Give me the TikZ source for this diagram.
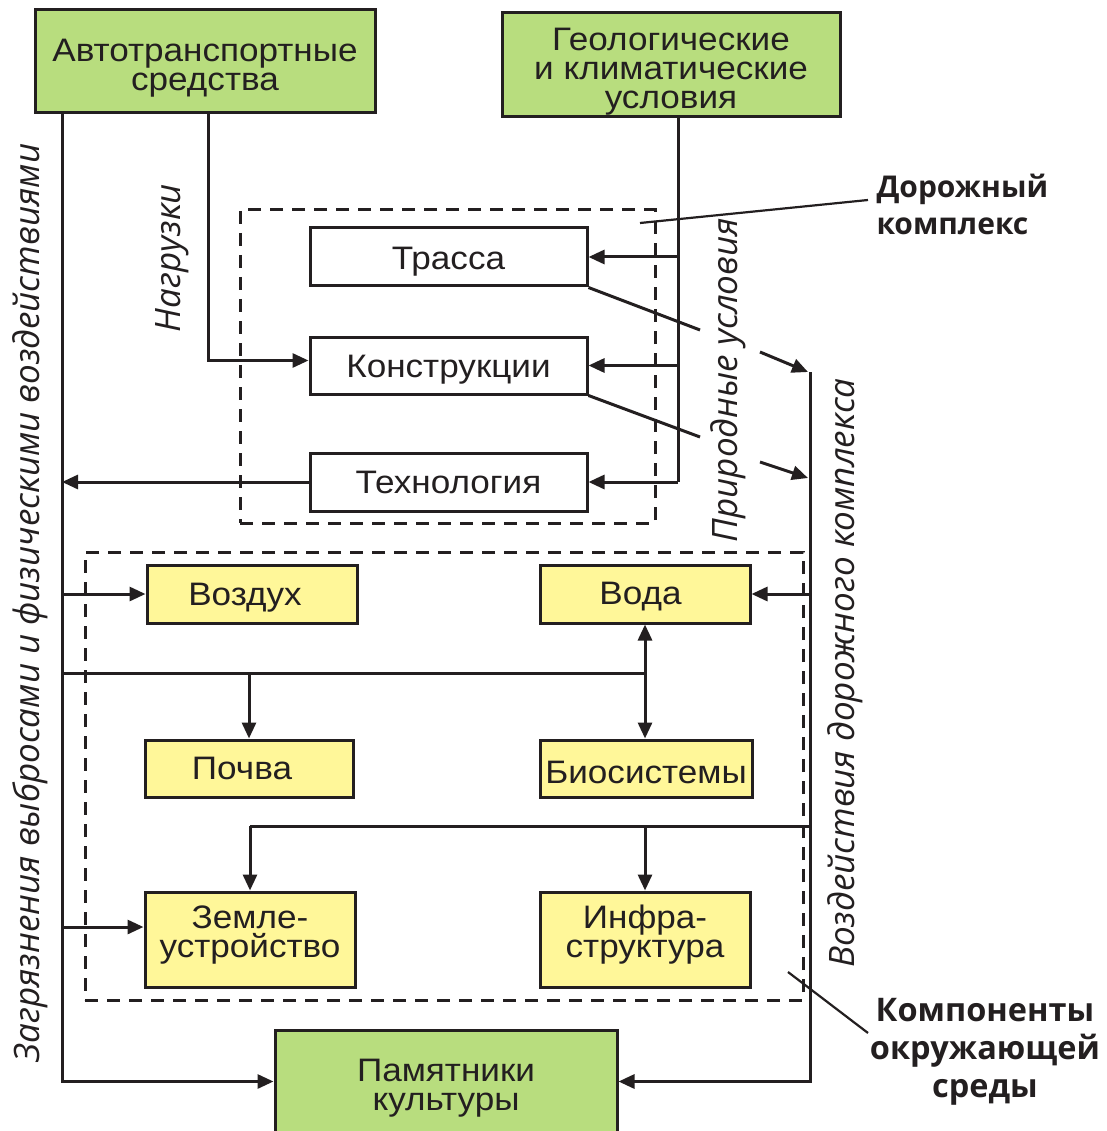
\documentclass[tikz,border=0pt]{standalone}
\usepackage{fontspec}
\setmainfont{Liberation Sans}
\newfontfamily\boxfont[FakeStretch=1.08]{Liberation Sans}
\newfontfamily\osans{Open Sans}
\usetikzlibrary{arrows.meta}
\definecolor{gfill}{RGB}{184,221,126}
\definecolor{yfill}{RGB}{255,247,153}
\definecolor{ln}{RGB}{35,31,32}
\newcommand\myfs{\boxfont\fontsize{32.5}{29}\selectfont}
\newcommand\itfs{\fontsize{35}{35}\selectfont}
\newcommand\bfa{\fontsize{30}{37}\selectfont}
\newcommand\bfb{\fontsize{32.5}{38}\selectfont}
\begin{document}
\begin{tikzpicture}[x=1pt,y=-1pt,color=ln,line width=3pt,
  box/.style={draw, line width=3pt, inner sep=0pt, align=center, font=\myfs},
  gbox/.style={box, fill=gfill},
  ybox/.style={box, fill=yfill},
  wbox/.style={box, fill=white},
  txt/.style={inner sep=0pt, align=center, font=\myfs},
  arr/.style={-{Triangle[length=16pt,width=14pt]}},
  darr/.style={{Triangle[length=16pt,width=14pt]}-{Triangle[length=16pt,width=14pt]}},
  dbox/.style={draw, dash pattern=on 13pt off 9pt, line width=3pt, inner sep=0pt},
  lbl/.style={font=\osans\itshape\itfs, inner sep=0pt},
  blbl/.style={font=\osans\bfseries, inner sep=0pt},
  lead/.style={line width=2.2pt}]
\useasboundingbox (0,0) rectangle (1106,1131);
% dashed groups
\node[dbox, minimum width=415pt, minimum height=313pt] (dk) at (447.5,366.5) {};
\node[dbox, minimum width=718pt, minimum height=448pt] (ko) at (444,776) {};
% boxes
\node[gbox, minimum width=340pt, minimum height=103pt] (avto) at (205,61.5) {};
\node[txt] (avto-t) at ([yshift=-6.5pt]avto.center) {Автотранспортные\\средства};
\node[gbox, minimum width=338pt, minimum height=104pt] (geo) at (671,65) {};
\node[txt] (geo-t) at ([yshift=-7pt]geo.center) {Геологические\\и климатические\\условия};
\node[wbox, minimum width=277pt, minimum height=58pt, text height=31.3pt, text depth=6.8pt] (trassa) at (448.5,257) {Трасса};
\node[wbox, minimum width=277pt, minimum height=57pt, text height=31.3pt, text depth=6.8pt] (konstr) at (448.5,365.5) {Конструкции};
\node[wbox, minimum width=277pt, minimum height=58pt] (tech) at (448.5,482) {Технология};
\node[ybox, minimum width=210pt, minimum height=58pt, text height=29.3pt, text depth=6.8pt] (vozd) at (252,594) {Воздух\hspace*{14pt}};
\node[ybox, minimum width=210pt, minimum height=58pt, text height=27.3pt, text depth=6.8pt] (voda) at (645,594) {Вода\hspace*{9pt}};
\node[ybox, minimum width=208pt, minimum height=57pt] (pochva) at (249,768.5) {Почва\hspace*{14pt}};
\node[ybox, minimum width=212pt, minimum height=57pt, text height=29.3pt, text depth=0pt] (bio) at (646,768.5) {Биосистемы};
\node[ybox, minimum width=210pt, minimum height=95pt] (zemle) at (250,939.5) {};
\node[txt] (zemle-t) at ([yshift=4.5pt]zemle.center) {Земле-\\устройство};
\node[ybox, minimum width=210pt, minimum height=95pt] (infra) at (645,939.5) {};
\node[txt] (infra-t) at ([yshift=4.5pt]infra.center) {Инфра-\\структура};
\node[gbox, minimum width=342pt, minimum height=103pt] (pam) at (446,1081.5) {};
\node[txt] (pam-t) at ([yshift=-7pt]pam.center) {Памятники\\культуры};
% guide coordinates
\coordinate (L) at (62,0);
\coordinate (N) at (208,0);
\coordinate (G) at (678,0);
\coordinate (R) at (810,0);
\coordinate (H1) at (0,673);
\coordinate (H2) at (0,826);
% left trunk
\draw[arr] (avto.south -| L) |- (pam.west);
\draw[arr] (vozd.west -| L) -- (vozd.west);
\draw[arr] ([yshift=12.5pt]zemle.west -| L) -- ([yshift=12.5pt]zemle.west);
\draw[arr] (tech.west) -- (tech.west -| L);
% loads
\draw[arr] (avto.south -| N) |- ([yshift=5pt]konstr.west);
% geology
\draw (geo.south -| G) -- (tech.east -| G);
\draw[arr] (trassa.east -| G) -- (trassa.east);
\draw[arr] (konstr.east -| G) -- (konstr.east);
\draw[arr] (tech.east -| G) -- (tech.east);
% road complex impacts
\coordinate (R1) at (810,372);
\draw (trassa.south east) -- (700,330);
\draw[arr] (760,352) -- (808,372);
\draw (konstr.south east) -- (700,437);
\draw[arr] (760,462) -- (808,478);
\draw[arr] (R1) |- (pam.east);
\draw[arr] (voda.east -| R) -- (voda.east);
% inner links
\draw (H1 -| L) -- (H1 -| voda.south);
\draw[arr] (H1 -| pochva.north) -- (pochva.north);
\draw[darr] (voda.south) -- (voda.south |- bio.north);
\draw (H2 -| R) -- (H2 -| zemle.north);
\draw[arr] (H2 -| zemle.north) -- (zemle.north);
\draw[arr] (H2 -| infra.north) -- (infra.north);
% labels
\node[lbl, rotate=90] (zag) at (30,603) {Загрязнения выбросами и физическими воздействиями};
\node[lbl, rotate=90] (nag) at (172,258) {Нагрузки};
\node[lbl, rotate=90] (prir) at (728,380) {Природные условия};
\node[lbl, rotate=90] (vozdk) at (845,673) {Воздействия дорожного комплекса};
\node[blbl, font=\osans\bfseries\bfa, align=left, anchor=west] (dkl) at (875,204) {Дорожный\\комплекс};
\node[blbl, font=\osans\bfseries\bfb, align=center] (kom) at (985,1052) {Компоненты\\окружающей\\среды};
\draw[lead] (640,223) -- (868,200);
\draw[lead] (788,972) -- (868,1033);
\end{tikzpicture}
\end{document}
